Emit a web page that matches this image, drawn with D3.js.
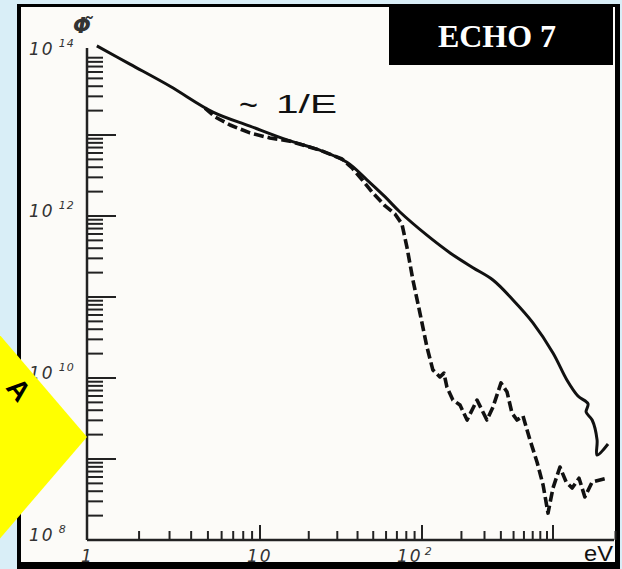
<!DOCTYPE html>
<html>
<head>
<meta charset="utf-8">
<script src="https://cdnjs.cloudflare.com/ajax/libs/d3/7.8.5/d3.min.js"></script>
<style>
body { margin: 0; background: #d9eef7; }
svg { display: block; }
</style>
</head>
<body>
<script>
var width = 622,
    height = 569;

// neutron energy (eV) and flux
var solidEnergy = [1.14, 1.77, 3.02, 5.35, 8.75, 14.7, 23.4, 34.4, 45.7, 59.2, 73.1, 109, 164, 245, 348, 495, 703, 1000, 1280, 1550, 1850, 1790, 1990, 2170, 2170, 2630];
var solidFlux = [1.26e14, 7.5e13, 4.0e13, 1.92e13, 1.29e13, 8.7e12, 6.5e12, 4.6e12, 2.8e12, 1.72e12, 1.12e12, 5.8e11, 3.5e11, 2.3e11, 1.62e11, 9.2e10, 4.8e10, 2.04e10, 9.4e9, 6.0e9, 4.8e9, 3.8e9, 3.03e9, 1.72e9, 1.12e9, 1.53e9];

var dashEnergy = [4.81, 5.5, 6.71, 8.75, 11.5, 15.3, 23.4, 32.1, 37.0, 42.7, 49.8, 59.2, 68.1, 75.2, 80.7, 87.9, 97.2, 109, 121, 137, 147, 155, 172, 195, 221, 263, 313, 348, 401, 446, 486, 531, 590, 667, 755, 840, 916, 1000, 1130, 1260, 1400, 1580, 1750, 1990, 2580];
var dashFlux = [2.15e13, 1.67e13, 1.33e13, 1.06e13, 9.2e12, 8.4e12, 6.5e12, 5.06e12, 3.92e12, 2.8e12, 1.92e12, 1.33e12, 1.06e12, 7.96e11, 4.14e11, 1.62e11, 6.3e10, 2.42e10, 1.26e10, 1.03e10, 1.15e10, 7.7e9, 5.35e9, 4.64e9, 3.03e9, 5.35e9, 3.03e9, 4.38e9, 8.7e9, 6.7e9, 3.7e9, 3.03e9, 3.4e9, 1.72e9, 9.2e8, 4.78e8, 2.15e8, 4.38e8, 7.96e8, 5.2e8, 4.38e8, 5.8e8, 3.4e8, 5.2e8, 5.8e8];

var yLabelPowers = [8, 10, 12, 14];
var xLabelValues = [1, 10, 100];
var xLabelText = ["1", "10", "10"];
var xLabelSup = ["", "", "2"];

var svg = d3.select("body").append("svg").attr("width", width).attr("height", height);

// page frame
svg.append("rect").attr("width", width).attr("height", height).attr("fill", "#d9eef7");
svg.append("rect").attr("x", 17).attr("y", 4).attr("width", 602).attr("height", 565).attr("fill", "#fcfbf8");
svg.append("line").attr("x1", 19).attr("y1", 4).attr("x2", 19).attr("y2", 569).attr("stroke", "#000").attr("stroke-width", 4);
svg.append("line").attr("x1", 17).attr("y1", 5.5).attr("x2", 620).attr("y2", 5.5).attr("stroke", "#000").attr("stroke-width", 3);
svg.append("line").attr("x1", 617.5).attr("y1", 4).attr("x2", 617.5).attr("y2", 569).attr("stroke", "#000").attr("stroke-width", 5);
svg.append("line").attr("x1", 17).attr("y1", 565.5).attr("x2", 620).attr("y2", 565.5).attr("stroke", "#000").attr("stroke-width", 7);

var x = d3.scaleLog().domain([1, 10, 100, 1000]).range([87, 260, 422, 553]);
var y = d3.scaleLog().domain([1e8, 1e14]).range([540, 54]);

var axisColor = "#222";

// y axis
svg.append("line").attr("x1", x(1)).attr("y1", 48).attr("x2", x(1)).attr("y2", y(1e8))
    .attr("stroke", axisColor).attr("stroke-width", 2.5);

var yTicks = y.ticks().filter(function (v) { return v > 1e8 && v < 1e14; });
svg.append("g").selectAll("line")
    .data(yTicks)
    .enter()
    .append("line")
    .attr("x1", x(1))
    .attr("x2", function (d) {
        var major = Math.abs(Math.log10(d) - Math.round(Math.log10(d))) < 1e-6;
        return x(1) + (major ? 29 : 16);
    })
    .attr("y1", function (d) { return y(d); })
    .attr("y2", function (d) { return y(d); })
    .attr("stroke", axisColor)
    .attr("stroke-width", 2);

var yLab = svg.append("g").selectAll("text")
    .data(yLabelPowers)
    .enter()
    .append("text")
    .attr("x", 29)
    .attr("y", function (d) { return y(Math.pow(10, d)) + 1; })
    .style("font-family", "DejaVu Sans")
    .style("font-style", "italic")
    .style("font-size", "17px")
    .style("letter-spacing", "2px")
    .style("fill", "#333")
    .text("10");
yLab.append("tspan")
    .attr("dx", 4)
    .attr("dy", -8)
    .style("font-size", "11px")
    .style("letter-spacing", "1px")
    .text(function (d) { return d; });

// x axis
svg.append("line").attr("x1", x(1)).attr("y1", y(1e8)).attr("x2", 614).attr("y2", y(1e8))
    .attr("stroke", axisColor).attr("stroke-width", 2.5);

var xTicks = d3.scaleLog().domain([1, 3000]).ticks()
    .filter(function (v) { return v > 1 && (v <= 1000 || v == 3000); });
svg.append("g").selectAll("line")
    .data(xTicks)
    .enter()
    .append("line")
    .attr("x1", function (d) { return x(d); })
    .attr("x2", function (d) { return x(d); })
    .attr("y1", y(1e8))
    .attr("y2", function (d) {
        var major = d == 10 || d == 100 || d == 1000;
        return y(1e8) - (major ? 15 : 9);
    })
    .attr("stroke", axisColor)
    .attr("stroke-width", 2);

var xLab = svg.append("g").selectAll("text")
    .data(xLabelValues)
    .enter()
    .append("text")
    .attr("x", function (d, i) { return x(d) + (i == 0 ? -6 : i == 2 ? -25 : -13); })
    .attr("y", 562)
    .style("font-family", "DejaVu Sans")
    .style("font-style", "italic")
    .style("font-size", "17px")
    .style("letter-spacing", "2px")
    .style("fill", "#333")
    .text(function (d, i) { return xLabelText[i]; });
xLab.append("tspan")
    .attr("dx", 2)
    .attr("dy", -7)
    .style("font-size", "11px")
    .text(function (d, i) { return xLabelSup[i]; });

svg.append("text")
    .attr("x", 584)
    .attr("y", 561)
    .attr("textLength", 29)
    .attr("lengthAdjust", "spacingAndGlyphs")
    .style("font-family", "Liberation Sans")
    .style("font-size", "22px")
    .style("fill", "#111")
    .text("eV");

// axis symbol
svg.append("text")
    .attr("x", 73)
    .attr("y", 33)
    .style("font-family", "DejaVu Sans")
    .style("font-style", "italic")
    .style("font-weight", "bold")
    .style("font-size", "21px")
    .style("fill", "#333")
    .text("Φ\u0303");

// curves
var line = d3.line()
    .x(function (d) { return x(d[0]); })
    .y(function (d) { return y(d[1]); });

var dashData = dashEnergy.map(function (e, i) { return [e, dashFlux[i]]; });
var solidData = solidEnergy.map(function (e, i) { return [e, solidFlux[i]]; });

svg.append("path")
    .datum(dashData)
    .attr("d", line)
    .attr("fill", "none")
    .attr("stroke", "#111")
    .attr("stroke-width", 3.6)
    .attr("stroke-dasharray", "10,4")
    .attr("stroke-linejoin", "round");

svg.append("path")
    .datum(solidData)
    .attr("d", line.curve(d3.curveCatmullRom.alpha(0.5)))
    .attr("fill", "none")
    .attr("stroke", "#111")
    .attr("stroke-width", 3)
    .attr("stroke-linejoin", "round");

// ~ 1/E annotation
svg.append("text")
    .attr("x", 239)
    .attr("y", 116)
    .attr("textLength", 19)
    .attr("lengthAdjust", "spacingAndGlyphs")
    .style("font-family", "Liberation Sans")
    .style("font-size", "34px")
    .style("fill", "#111")
    .text("~");
svg.append("text")
    .attr("x", 276)
    .attr("y", 113)
    .attr("textLength", 61)
    .attr("lengthAdjust", "spacingAndGlyphs")
    .style("font-family", "Liberation Sans")
    .style("font-size", "25px")
    .style("fill", "#111")
    .text("1/E");

// title box
svg.append("rect").attr("x", 389).attr("y", 6).attr("width", 224).attr("height", 59).attr("fill", "#000");
svg.append("text")
    .attr("x", 497)
    .attr("y", 47)
    .attr("text-anchor", "middle")
    .style("font-family", "Liberation Serif")
    .style("font-weight", "bold")
    .style("font-size", "32px")
    .style("fill", "#fff")
    .text("ECHO 7");

// yellow marker on the left edge
svg.append("polygon")
    .attr("points", "-60,265 87,437 -40,585")
    .attr("fill", "#ffff00");
svg.append("text")
    .attr("transform", "translate(5,388) rotate(50)")
    .style("font-family", "Liberation Sans")
    .style("font-weight", "bold")
    .style("font-size", "28px")
    .style("fill", "#000")
    .text("A");
</script>
</body>
</html>
